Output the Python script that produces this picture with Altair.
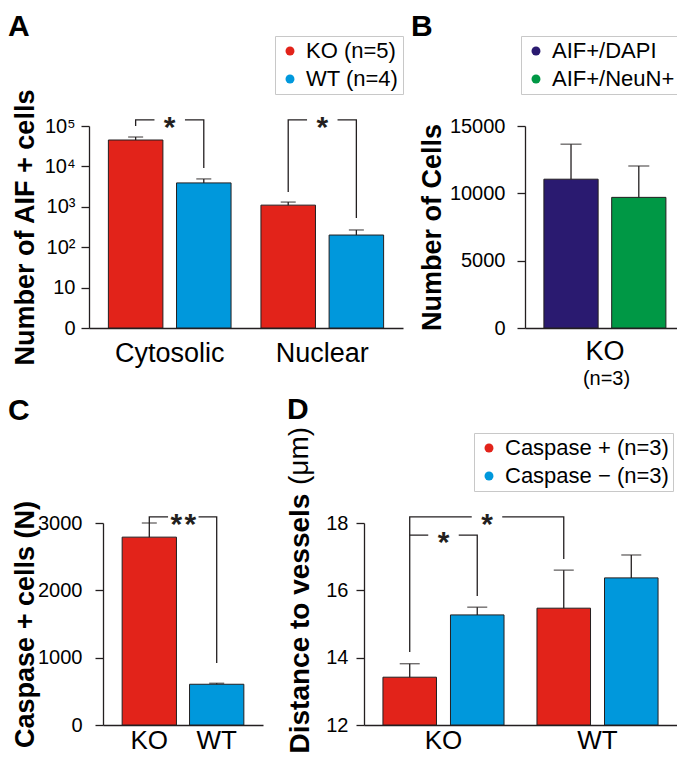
import altair as alt
import pandas as pd

FONT = "Liberation Sans"
RED, BLUE, NAVY, GREEN = "#E2231A", "#0098DC", "#2A1A70", "#009845"
INK = "#231F20"
W, H = 669, 746


def P(v):
    """page pixel -> chart pixel (page has an 8px margin)"""
    return v - 8


# ---------------- data ----------------
# Panel A
a_groups = ["Cytosolic", "Cytosolic", "Nuclear", "Nuclear"]
a_series_names = ["KO (n=5)", "WT (n=4)"]
a_series = ["KO (n=5)", "WT (n=4)", "KO (n=5)", "WT (n=4)"]
a_mean = [45000, 3900, 1100, 200]
a_sem = [8400, 1000, 210, 67]
a_tick_values = [1, 10, 100, 1000, 10000, 100000]
a_tick_labels = ["0", "10", "10²", "10³", "10⁴", "10⁵"]
a_brk_id = ["cyto"] * 4 + ["nuc"] * 4
a_brk_group = ["Cytosolic"] * 4 + ["Nuclear"] * 4
a_brk_series = ["KO (n=5)", "KO (n=5)", "WT (n=4)", "WT (n=4)"] * 2
a_brk_value = [100000, 141000, 141000, 9100, 2330, 141000, 141000, 530]
a_star_group = ["Cytosolic", "Nuclear"]
a_star_value = [141000, 141000]
a_star_label = ["*", "*"]

# Panel B
b_groups = ["KO", "KO"]
b_series_names = ["AIF+/DAPI", "AIF+/NeuN+"]
b_mean = [11050, 9700]
b_sem = [2600, 2330]
b_tick_values = [0, 5000, 10000, 15000]

# Panel C
c_groups = ["KO", "WT"]
c_mean = [2790, 605]
c_sem = [210, 15]
c_tick_values = [0, 1000, 2000, 3000]
c_brk_group = ["KO", "KO", "WT", "WT"]
c_brk_value = [3000, 3090, 3090, 920]
c_star_group = ["KO"]
c_star_value = [3090]
c_star_label = ["*\u200a*"]

# Panel D
d_group_names = ["KO", "WT"]
d_groups = ["KO", "KO", "WT", "WT"]
d_series_names = ["Caspase + (n=3)", "Caspase \u2212 (n=3)"]
d_series = d_series_names * 2
d_mean = [13.42, 15.27, 15.47, 16.37]
d_sem = [0.40, 0.23, 1.13, 0.68]
d_tick_values = [12, 14, 16, 18]
d_brk_id = ["outer"] * 4 + ["inner"] * 3
d_brk_group = ["KO", "KO", "WT", "WT", "KO", "KO", "KO"]
d_brk_series = [d_series_names[0]] * 4 + [d_series_names[0], d_series_names[1], d_series_names[1]]
d_brk_value = [14.17, 18.18, 18.18, 16.93, 17.64, 17.64, 15.83]
d_star_inner = {"group": ["KO"], "value": [17.64], "label": ["*"]}
d_star_outer = {"group": ["KO"], "value": [18.18], "label": ["*"]}

panel_letters = ["A", "B", "C", "D"]

# ---------------- helpers ----------------
GAP_SHAPE = "M-1,-0.5L1,-0.5L1,0.5L-1,0.5Z"


def y_axis(offset, values, title, title_x, label_pad, label_expr=None, fmt="d", **kw):
    args = dict(orient="left", offset=offset, values=values, grid=False,
                tickSize=8, tickWidth=1.3, tickColor=INK, domainColor=INK, domainWidth=1.3,
                labelFontSize=20, labelPadding=label_pad, labelColor="black",
                title=title, titleX=title_x, titleAngle=270, titleBaseline="alphabetic",
                titleFontSize=27, titleFontWeight="bold", titleColor="black")
    if label_expr is not None:
        args["labelExpr"] = label_expr
    else:
        args["format"] = fmt
    args.update(kw)
    return alt.Axis(**args)


def x_axis(offset, label_pad=13, label_size=27, title=None, **kw):
    args = dict(orient="bottom", offset=offset, ticks=False, tickSize=0, grid=False,
                domainColor=INK, domainWidth=1.3, labelFontSize=label_size, labelPadding=label_pad,
                labelAngle=0, labelColor="black", title=title)
    args.update(kw)
    return alt.Axis(**args)


def legend(px, py):
    return alt.Legend(orient="none", legendX=P(px), legendY=P(py), title=None,
                      symbolType="circle", symbolSize=80, symbolStrokeWidth=0,
                      labelFontSize=22, labelOffset=5, padding=4, rowPadding=6,
                      strokeColor="#C8C8C8", fillColor="white", labelColor="black",
                      labelLimit=300)


def panel(bars, brk, stars_list, X, Y, base, color, XO=None, cap=16):
    enc = dict(x=X, y=Y)
    if XO is not None:
        enc["xOffset"] = XO
    caps = bars.assign(value=bars["value"] + bars["sem"])
    layers = [
        alt.Chart(bars).mark_bar(stroke=INK, strokeWidth=1).encode(
            y2=alt.Y2(datum=base), color=color, **enc),
        alt.Chart(bars.assign(upper=bars["value"] + bars["sem"])).mark_rule(
            color=INK, strokeWidth=1.3).encode(y2="upper:Q", **enc),
        alt.Chart(caps).mark_tick(color=INK, thickness=1.3, size=cap).encode(**enc),
    ]
    if brk is not None:
        layers.append(alt.Chart(brk).mark_line(color=INK, strokeWidth=1.3).encode(
            detail="bid:N", order="k:Q", **enc))
    for sdf, dx in stars_list:
        layers.append(alt.Chart(sdf).mark_point(
            shape=GAP_SHAPE, size=930, filled=True, color="white", opacity=1,
            strokeWidth=0, xOffset=dx).encode(x=X, y=Y))
        layers.append(alt.Chart(sdf).mark_text(
            fontSize=30, fontWeight="bold", baseline="alphabetic", dy=17, dx=dx,
            color=INK).encode(x=X, y=Y, text="label:N"))
    return alt.layer(*layers)


# ---------------- panel A ----------------
a_bars = pd.DataFrame({"group": a_groups, "series": a_series, "value": a_mean, "sem": a_sem})
a_brk = pd.DataFrame({"bid": a_brk_id, "group": a_brk_group, "series": a_brk_series,
                      "value": a_brk_value, "k": [0, 1, 2, 3] * 2})
a_stars = pd.DataFrame({"group": a_star_group, "value": a_star_value, "label": a_star_label})

a_parts = []
for v, lab in zip(a_tick_values[:-1], a_tick_labels[:-1]):
    lab2 = lab if any(ch in lab for ch in "²³⁴⁵") else lab + "\u2009"
    a_parts.append(f"datum.value < {v * 3} ? '{lab2}'")
a_expr = " : ".join(a_parts) + f" : '{a_tick_labels[-1]}'"

aX = alt.X("group:N", scale=alt.Scale(domain=["Cytosolic", "Nuclear"], range=[P(89), P(403)],
                                       paddingInner=0.196, paddingOuter=0.127, align=0.5),
           axis=x_axis(P(328) - H, label_pad=12))
aXO = alt.XOffset("series:N", scale=alt.Scale(domain=a_series_names, paddingInner=0.2, paddingOuter=0))
aY = alt.Y("value:Q", scale=alt.Scale(type="log", domain=[1, 100000], range=[P(328), P(126)], nice=False),
           axis=y_axis(-P(89), a_tick_values, "Number of AIF + cells", 33 - 89, 6, label_expr=a_expr))
aC = alt.Color("series:N", scale=alt.Scale(domain=a_series_names, range=[RED, BLUE]), legend=legend(275, 36))
panelA = panel(a_bars, a_brk, [(a_stars, 0)], aX, aY, 1, aC, XO=aXO, cap=15)

# ---------------- panel B ----------------
b_bars = pd.DataFrame({"group": b_groups, "series": b_series_names, "value": b_mean, "sem": b_sem})
bX = alt.X("group:N", scale=alt.Scale(domain=["KO"], range=[P(525), P(678)],
                                       paddingInner=0, paddingOuter=0.127, align=0.61),
           axis=x_axis(P(328) - H, label_pad=10, title="(n=3)", titleFontSize=20,
                       titleFontWeight="normal", titleBaseline="alphabetic", titleY=56,
                       titleX=P(606), titleColor="black"))
bXO = alt.XOffset("series:N", scale=alt.Scale(domain=b_series_names, paddingInner=0.2, paddingOuter=0))
bY = alt.Y("value:Q", scale=alt.Scale(domain=[0, 15000], range=[P(328), P(126)], nice=False),
           axis=y_axis(-P(525), b_tick_values, "Number of Cells", 440 - 525, 12))
bC = alt.Color("series:N", scale=alt.Scale(domain=b_series_names, range=[NAVY, GREEN]), legend=legend(521, 36))
panelB = panel(b_bars, None, [], bX, bY, 0, bC, XO=bXO, cap=21)

# ---------------- panel C ----------------
c_bars = pd.DataFrame({"group": c_groups, "value": c_mean, "sem": c_sem})
c_brk = pd.DataFrame({"bid": ["c"] * 4, "group": c_brk_group, "value": c_brk_value, "k": [0, 1, 2, 3]})
c_stars = pd.DataFrame({"group": c_star_group, "value": c_star_value, "label": c_star_label})
cX = alt.X("group:N", scale=alt.Scale(domain=c_groups, range=[P(103), P(263)],
                                       paddingInner=0.194, paddingOuter=0.284, align=0.5),
           axis=x_axis(P(725) - H, label_pad=2, label_size=26))
cY = alt.Y("value:Q", scale=alt.Scale(domain=[0, 3000], range=[P(725), P(523)], nice=False),
           axis=y_axis(-P(103), c_tick_values, "Caspase + cells (N)", 33 - 103, 13))
cC = alt.Color("group:N", scale=alt.Scale(domain=c_groups, range=[RED, BLUE]), legend=None)
panelC = panel(c_bars, c_brk, [(c_stars, 34)], cX, cY, 0, cC, cap=15)

# ---------------- panel D ----------------
d_bars = pd.DataFrame({"group": d_groups, "series": d_series, "value": d_mean, "sem": d_sem})
d_brk = pd.DataFrame({"bid": d_brk_id, "group": d_brk_group, "series": d_brk_series,
                      "value": d_brk_value, "k": [0, 1, 2, 3, 0, 1, 2]})
dX = alt.X("group:N", scale=alt.Scale(domain=d_group_names, range=[P(364), P(677)],
                                       paddingInner=0.214, paddingOuter=0.123, align=0.5),
           axis=x_axis(P(725) - H, label_pad=2, label_size=26))
dXO = alt.XOffset("series:N", scale=alt.Scale(domain=d_series_names, paddingInner=0.207, paddingOuter=0))
dY = alt.Y("value:Q", scale=alt.Scale(domain=[12, 18], range=[P(725), P(523)], nice=False, zero=False),
           axis=y_axis(-P(364), d_tick_values, "Distance to vessels", 308 - 364, 8,
                       titleAlign="left", titleY=P(753), titleFontSize=28))
dC = alt.Color("series:N", scale=alt.Scale(domain=d_series_names, range=[RED, BLUE]), legend=legend(474, 433))
panelD = panel(d_bars, d_brk, [(pd.DataFrame(d_star_inner), 0), (pd.DataFrame(d_star_outer), 43.5)],
               dX, dY, 12, dC, XO=dXO, cap=20)

# ---------------- annotations ----------------
def label_text(txt, px, py, size, weight="bold", angle=0, align="left"):
    return alt.Chart(pd.DataFrame({"t": [txt]})).mark_text(
        fontSize=size, fontWeight=weight, align=align, baseline="alphabetic", angle=angle,
        color="black").encode(x=alt.value(P(px)), y=alt.value(P(py)), text="t:N")


letters = [
    label_text(panel_letters[0], 8, 36, 30),
    label_text(panel_letters[1], 411, 36, 30),
    label_text(panel_letters[2], 8, 420, 30),
    label_text(panel_letters[3], 287, 419, 30),
]
unit_text = label_text("(\u03bcm)", 308, 485, 28, weight="normal", angle=270, align="left")

chart = alt.layer(panelA, panelB, panelC, panelD, *letters, unit_text).resolve_scale(
    x="independent", y="independent", color="independent", xOffset="independent"
).properties(
    width=W, height=H, autosize=alt.AutoSizeParams(type="none"), padding=0
).configure(font=FONT).configure_view(stroke=None).configure_axis(
    labelFont=FONT, titleFont=FONT
).configure_legend(labelFont=FONT).configure_text(font=FONT)

chart.save("out.html", embed_options={"renderer": "svg", "actions": False})
